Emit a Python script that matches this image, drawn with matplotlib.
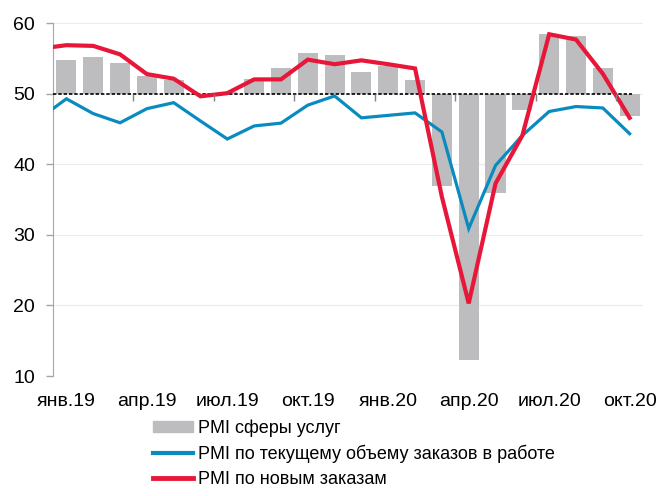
import matplotlib.pyplot as plt
from matplotlib.patches import Patch
from matplotlib.lines import Line2D
import numpy as np

plt.rcParams['font.family'] = ['Liberation Sans', 'DejaVu Sans']

months = ['янв.19', 'фев.19', 'мар.19', 'апр.19', 'май.19', 'июн.19',
          'июл.19', 'авг.19', 'сен.19', 'окт.19', 'ноя.19', 'дек.19',
          'янв.20', 'фев.20', 'мар.20', 'апр.20', 'май.20', 'июн.20',
          'июл.20', 'авг.20', 'сен.20', 'окт.20']

# PMI сферы услуг (bars, drawn from the 50 line)
services = [54.85, 55.2, 54.4, 52.5, 51.9, 49.8, 50.3, 52.05, 53.6, 55.8, 55.55, 53.1,
            53.95, 51.9, 37.0, 12.2, 35.9, 47.75, 58.5, 58.2, 53.7, 46.85]

# line series start one month earlier (dec.18), partly clipped at the axis edge
backlog = [46.5, 49.3, 47.2, 45.9, 47.9, 48.75, 46.15, 43.6, 45.45, 45.85, 48.4, 49.7, 46.6,
           46.95, 47.3, 44.6, 30.9, 39.85, 44.1, 47.5, 48.2, 48.0, 44.35]
new_orders = [56.4, 56.9, 56.8, 55.6, 52.8, 52.15, 49.65, 50.1, 52.05, 52.05, 54.85, 54.2, 54.75,
              54.2, 53.6, 35.4, 20.3, 37.3, 44.1, 58.45, 57.7, 52.85, 46.6]

label_idx = [0, 3, 6, 9, 12, 15, 18, 21]

grey = '#BDBDBF'
blue = '#0A8BBF'
red = '#E8173A'

x = np.arange(len(months))
x_lines = np.arange(-1, len(months))

fig = plt.figure(figsize=(6.6, 4.96), dpi=100)
ax = fig.add_axes([0.0803, 0.2419, 0.894, 0.7111])

vals = np.array(services)
ax.bar(x, vals - 50, bottom=50, width=0.75, color=grey, zorder=2)
ax.axhline(50, xmin=0, xmax=(21.1 + 0.5) / 22, color='black', lw=1.2,
           linestyle=(0, (2, 1.2)), zorder=3)
ax.plot(x_lines, backlog, color=blue, lw=2.3, zorder=4, solid_joinstyle='miter')
ax.plot(x_lines, new_orders, color=red, lw=3.0, zorder=5, solid_joinstyle='miter')

ax.set_xlim(-0.5, len(months) - 0.5)
ax.set_ylim(10, 60)
ax.set_yticks(range(10, 61, 10))
ax.grid(axis='y', color='#EBEBEB', lw=0.8, zorder=0)
ax.set_axisbelow(True)

ax.set_xticks(label_idx)
ax.set_xticklabels([months[i] for i in label_idx])
ax.tick_params(axis='x', length=0, pad=12, labelsize=14)
ax.tick_params(axis='y', length=5, width=1, color='#A6A6A6', pad=8, labelsize=14)

for s in ['top', 'right', 'bottom']:
    ax.spines[s].set_visible(False)
ax.spines['left'].set_color('#A6A6A6')

# small category ticks hanging from the 50 line
sec = ax.secondary_xaxis((50 - 10) / 50)
sec.set_xticks(np.arange(2.5, len(months), 3))
sec.set_xticklabels([])
sec.xaxis.set_tick_params(which='major', bottom=True, top=False, length=5,
                          width=1, direction='out', color='#808080',
                          labelbottom=False, labeltop=False)
sec.set_zorder(6)
for s in sec.spines.values():
    s.set_visible(False)

handles = [Patch(color=grey),
           Line2D([], [], color=blue, lw=3),
           Line2D([], [], color=red, lw=3.5)]
labels = ['PMI сферы услуг',
          'PMI по текущему объему заказов в работе',
          'PMI по новым заказам']
fig.legend(handles, labels, loc='upper left', bbox_to_anchor=(0.232, 0.155),
           frameon=False, fontsize=13, handlelength=2.2, handleheight=0.55,
           handletextpad=0.3, labelspacing=0.45, borderpad=0, borderaxespad=0)

fig.savefig('out.png', dpi=100)
